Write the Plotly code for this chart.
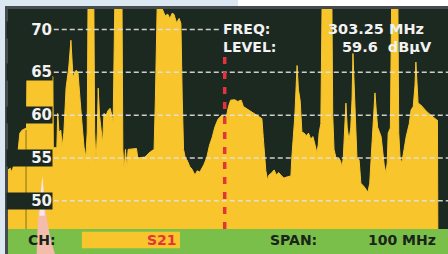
import plotly.graph_objects as go

freq_mhz = [
    254.0, 254.5, 254.9, 255.2, 255.6, 256.0, 256.3, 256.7, 257.2, 258.1, 258.2,
    258.3, 264.2, 264.3, 265.1, 265.3, 265.6, 266.0, 266.3, 266.7, 267.0,
    267.2, 267.8, 268.3, 268.6, 268.8, 269.2, 269.5, 269.9, 270.1, 270.4,
    270.9, 271.3, 271.7, 272.0, 272.2, 273.5, 273.7, 274.0, 274.3, 274.5,
    274.8, 275.1, 275.5, 275.8, 276.3, 276.7, 277.2, 277.6, 277.9, 278.3,
    279.9, 280.1, 280.4, 280.7, 281.0, 281.3, 283.2, 283.5, 285.1, 286.3,
    287.2, 287.5, 287.9, 288.3, 289.0, 289.7, 290.3, 290.8, 291.3, 291.7,
    292.3, 292.9, 293.3, 293.6, 293.9, 294.3, 294.7, 295.3, 295.8, 296.5,
    297.0, 297.6, 298.5, 299.2, 299.8, 300.4, 301.0, 301.7, 302.6, 303.3,
    303.7, 304.1, 304.6, 305.5, 306.2, 307.0, 307.5, 308.1, 308.7, 309.2,
    310.5, 311.7, 312.0, 312.3, 312.6, 313.0, 313.3, 313.8, 314.5, 315.0,
    315.5, 316.2, 316.7, 317.5, 318.3, 318.5, 318.9, 319.2, 319.5, 319.7,
    320.0, 320.4, 320.8, 321.3, 321.8, 322.3, 322.8, 323.3, 323.8, 324.2,
    324.5, 324.7, 325.1, 325.4, 327.6, 327.8, 328.1, 328.5, 328.9, 329.2,
    329.6, 329.9, 330.2, 330.5, 330.8, 331.1, 331.5, 331.9, 332.2, 332.4,
    332.6, 332.9, 333.3, 333.8, 334.2, 335.0, 335.8, 336.2, 336.5, 336.9,
    337.4, 337.7, 338.0, 338.8, 339.5, 339.9, 340.2, 340.4, 340.9, 341.2,
    342.6, 342.8, 343.1, 343.5, 343.8, 344.5, 345.2, 345.6, 346.1, 346.5,
    346.7, 346.9, 347.2, 347.8, 348.3, 349.2, 350.1, 350.7, 351.3, 351.6,
    351.7, 354.0,
]
level_dbuv = [
    53.6, 53.8, 53.35, 54.0, 54.2, 55.5, 55.9, 57.9, 58.25, 58.5, 58.5,
    64.5, 64.5, 56.2, 56.2, 60.2, 58.0, 58.25, 56.3, 58.0, 62.0,
    63.2, 65.5, 68.75, 66.0, 64.4, 65.0, 65.25, 65.0, 63.0, 61.7,
    58.5, 56.2, 55.1, 58.0, 74.0, 74.0, 58.0, 54.4, 58.0, 63.15,
    60.0, 58.25, 56.7, 60.2, 60.0, 60.5, 60.8, 60.0, 59.2, 74.0,
    74.0, 56.0, 53.6, 56.0, 53.8, 56.0, 56.1, 55.0, 55.1, 55.7,
    56.0, 62.0, 72.6, 72.6, 72.5, 71.6, 71.8, 71.3, 71.9, 71.8,
    70.8, 71.3, 70.7, 62.0, 56.0, 55.0, 54.75, 54.0, 53.7, 53.0,
    53.5, 53.35, 54.2, 55.1, 56.5, 57.4, 58.6, 59.5, 60.0, 59.6,
    60.0, 61.0, 61.75, 61.8, 61.6, 61.75, 61.0, 60.8, 60.6, 60.4,
    59.9, 59.6, 57.5, 55.9, 53.5, 52.4, 53.0, 53.2, 53.6, 53.0,
    53.3, 52.9, 52.65, 52.8, 52.9, 55.0, 57.5, 60.0, 63.5, 65.8,
    63.0, 61.7, 58.0, 57.9, 57.6, 57.9, 57.2, 57.5, 56.5, 55.6,
    56.5, 57.9, 59.0, 74.0, 74.0, 60.0, 56.0, 55.1, 54.8, 55.0,
    54.6, 53.95, 55.0, 58.5, 61.4, 58.5, 57.1, 58.5, 62.0, 67.2,
    64.0, 60.0, 55.1, 54.75, 52.05, 51.6, 51.0, 52.0, 55.0, 58.5,
    62.6, 60.5, 58.6, 57.5, 54.2, 53.2, 54.5, 57.9, 58.5, 74.0,
    74.0, 58.0, 55.1, 54.4, 55.5, 57.5, 59.0, 60.6, 61.0, 63.5,
    66.2, 63.5, 61.4, 61.2, 60.9, 60.4, 60.0, 59.7, 59.5, 59.4,
    45.0, 45.0,
]
tick_values = [50, 55, 60, 65, 70]
marker_freq = 303.25
marker_text = "303.25 MHz"
marker_level_text = "59.6&nbsp; dBµV"
channel_text = "S21"
span_text = "100 MHz"
x_range = [254.0, 354.0]
y_range = [46.7, 72.4]

# ---- styling ----
YELLOW = "#f8c52c"
DARK = "#1c2920"
GREEN = "#7abf4a"
BORDER = "#464b50"
RED = "#e2343a"
WHITE_TXT = "#f2f2f2"
DARK_TXT = "#1b2419"
FONT = "DejaVu Sans"

fig = go.Figure()
fig.add_trace(go.Scatter(
    x=freq_mhz, y=level_dbuv, mode="lines",
    line=dict(color=YELLOW, width=1),
    fill="tozeroy", fillcolor=YELLOW, hoverinfo="skip",
))

shapes = []
# top strip (white part) and frame
shapes.append(dict(type="rect", xref="paper", yref="paper", x0=0.5227, x1=1.0,
                   y0=1.0136, y1=1.05, fillcolor="#ffffff", line=dict(width=0), layer="below"))
shapes.append(dict(type="rect", xref="paper", yref="paper", x0=-0.0034, x1=1.01,
                   y0=-0.13, y1=1.0068, fillcolor="rgba(0,0,0,0)",
                   line=dict(color=BORDER, width=3), layer="below"))
# bottom green status bar
shapes.append(dict(type="rect", xref="paper", yref="paper", x0=0, x1=1.0,
                   y0=-0.12, y1=0, fillcolor=GREEN, line=dict(width=0), layer="below"))
# yellow channel box
shapes.append(dict(type="rect", xref="paper", yref="paper", x0=0.168, x1=0.391,
                   y0=-0.088, y1=-0.013, fillcolor=YELLOW, line=dict(width=0), layer="above"))
# gridlines (drawn over the trace)
for v in tick_values:
    shapes.append(dict(type="line", xref="paper", yref="y", x0=0.104,
                       x1=(0.482 if v == max(tick_values) else 1.0), y0=v, y1=v,
                       line=dict(color="rgba(225,225,225,0.9)", width=1.5, dash="5px,3px"),
                       layer="above"))
# marker
shapes.append(dict(type="line", xref="x", yref="paper", x0=marker_freq, x1=marker_freq,
                   y0=0.0, y1=0.782, line=dict(color=RED, width=3.5, dash="7px,8px"),
                   layer="above"))
# thin dark artefact line at the left
shapes.append(dict(type="line", xref="paper", yref="paper", x0=0.041, x1=0.041,
                   y0=0.0, y1=0.45, line=dict(color="rgba(40,40,20,0.55)", width=1),
                   layer="above"))
# pointer overlay
shapes.append(dict(type="path", xref="paper", yref="paper",
                   path="M 0.0652,-0.1136 Q 0.0675,0.10 0.0789,0.2409 Q 0.0845,0.02 0.1068,-0.1136 Z",
                   fillcolor="#f3bcad", line=dict(width=0), layer="above"))
shapes.append(dict(type="path", xref="paper", yref="paper",
                   path="M 0.0712,0.06 Q 0.073,0.17 0.0789,0.2409 Q 0.0815,0.15 0.0835,0.06 Z",
                   fillcolor="#fbe5dc", line=dict(width=0), layer="above"))

annotations = []
for v in tick_values:
    annotations.append(dict(
        text=f"<b>{v}</b>", x=0.1023, xref="paper", xanchor="right",
        y=v, yref="y", yanchor="middle", showarrow=False,
        font=dict(family=FONT, size=15, color=WHITE_TXT),
        bgcolor=DARK, width=45, height=16, align="right", borderpad=0,
    ))

def txt(text, x, y, anchor, color, size, h=None):
    d = dict(text=f"<b>{text}</b>", x=x, y=y, xref="paper", yref="paper",
             xanchor=anchor, yanchor="middle", showarrow=False, borderpad=0,
             font=dict(family=FONT, size=size, color=color))
    if h is not None:
        d["height"] = h
    return d

annotations += [
    txt("FREQ:", 0.486, 0.912, "left", WHITE_TXT, 14, 15),
    txt("LEVEL:", 0.486, 0.830, "left", WHITE_TXT, 14, 15),
    txt(marker_text, 0.9477, 0.912, "right", WHITE_TXT, 14.5, 15),
    txt(marker_level_text, 0.966, 0.830, "right", WHITE_TXT, 14.5, 15),
    txt("CH:", 0.0432, -0.05, "left", DARK_TXT, 14),
    txt(channel_text, 0.386, -0.05, "right", RED, 14),
    txt("SPAN:", 0.593, -0.05, "left", DARK_TXT, 14),
    txt(span_text, 0.975, -0.05, "right", DARK_TXT, 14),
]

fig.update_layout(
    width=448, height=254, autosize=False,
    margin=dict(l=8, r=0, t=9, b=25, pad=0),
    paper_bgcolor="#dbe7f1", plot_bgcolor=DARK,
    showlegend=False,
    xaxis=dict(range=x_range, visible=False, fixedrange=True),
    yaxis=dict(range=y_range, visible=False, fixedrange=True),
    shapes=shapes, annotations=annotations,
)

fig.write_html("out.html", config={"displayModeBar": False},
               post_script="document.body.style.margin='0';document.body.style.overflow='hidden';")
